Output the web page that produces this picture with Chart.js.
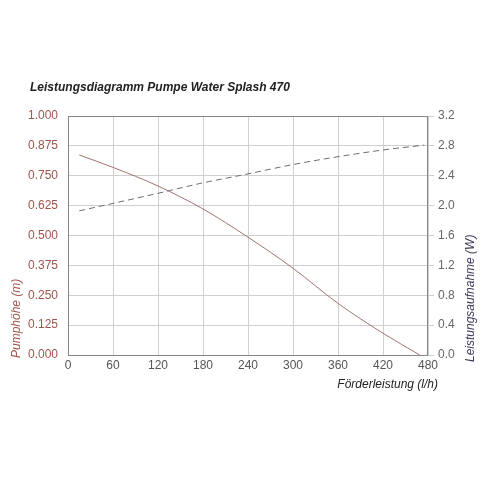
<!DOCTYPE html>
<html>
<head>
<meta charset="utf-8">
<script src="https://cdn.jsdelivr.net/npm/chart.js@4"></script>
<style>
  html, body { margin: 0; padding: 0; background: #fff; }
  #wrap { width: 481px; height: 481px; }
</style>
</head>
<body>
<div id="wrap"><canvas id="pumpChart" width="481" height="481"></canvas></div>
<script>
// values
const flowHeight = [15, 60, 120, 180, 240, 300, 360, 420, 469];
const headValues = [0.837, 0.785, 0.707, 0.611, 0.493, 0.363, 0.216, 0.091, 0.0];
const flowPower = [15, 60, 120, 180, 240, 300, 360, 420, 475];
const powerValues = [1.93, 2.03, 2.165, 2.305, 2.425, 2.55, 2.655, 2.745, 2.81];

const chartTitle = 'Leistungsdiagramm Pumpe Water Splash 470';
const xTitle = 'Förderleistung (l/h)';
const leftTitle = 'Pumphöhe (m)';
const rightTitle = 'Leistungsaufnahme (W)';

const FONT = '"Liberation Sans", Arial, sans-serif';
const brown = '#a0544c';

function toPoints(xs, ys) {
  return xs.map((x, i) => ({ x: x, y: ys[i] }));
}

// titles and frame drawn by hand
const decorations = {
  id: 'decorations',
  afterDraw(chart) {
    const ctx = chart.ctx;
    const a = chart.chartArea;
    ctx.save();
    ctx.strokeStyle = '#858585';
    ctx.lineWidth = 1;
    ctx.strokeRect(a.left + 0.5, a.top + 0.5, a.right - a.left - 1, a.bottom - a.top);

    ctx.fillStyle = '#222';
    ctx.font = 'italic bold 12px ' + FONT;
    ctx.textBaseline = 'middle';
    ctx.textAlign = 'left';
    ctx.fillText(chartTitle, 30, 88);

    ctx.font = 'italic 12px ' + FONT;
    ctx.textAlign = 'right';
    ctx.fillText(xTitle, 438, 385);

    ctx.save();
    ctx.translate(17, 358);
    ctx.rotate(-Math.PI / 2);
    ctx.textAlign = 'left';
    ctx.fillStyle = brown;
    ctx.fillText(leftTitle, 0, 0);
    ctx.restore();

    ctx.save();
    ctx.translate(471, 362);
    ctx.rotate(-Math.PI / 2);
    ctx.textAlign = 'left';
    ctx.fillStyle = '#3a3a58';
    ctx.fillText(rightTitle, 0, 0);
    ctx.restore();
    ctx.restore();
  }
};

new Chart(document.getElementById('pumpChart').getContext('2d'), {
  type: 'line',
  data: {
    datasets: [
      {
        label: leftTitle,
        data: toPoints(flowHeight, headValues),
        yAxisID: 'yHead',
        borderColor: '#a07470',
        borderWidth: 1,
        pointRadius: 0,
        cubicInterpolationMode: 'monotone',
        fill: false
      },
      {
        label: rightTitle,
        data: toPoints(flowPower, powerValues),
        yAxisID: 'yPower',
        borderColor: '#6e6e6e',
        borderWidth: 1,
        borderDash: [6, 4],
        pointRadius: 0,
        cubicInterpolationMode: 'monotone',
        fill: false
      }
    ]
  },
  options: {
    responsive: false,
    animation: false,
    layout: { padding: { top: 116, left: 0, right: 0, bottom: 0 } },
    plugins: {
      legend: { display: false },
      tooltip: { enabled: false },
      title: { display: false }
    },
    scales: {
      x: {
        type: 'linear',
        min: 0,
        max: 480,
        afterFit(scale) { scale.height = 126; },
        ticks: {
          stepSize: 60,
          color: '#555',
          font: { family: FONT, size: 12 },
          padding: 3,
          maxRotation: 0
        },
        grid: { color: '#cfcfcf', drawTicks: false },
        border: { display: false }
      },
      yHead: {
        position: 'left',
        min: 0,
        max: 1,
        afterFit(scale) { scale.width = 68; },
        ticks: {
          stepSize: 0.125,
          color: brown,
          font: { family: FONT, size: 12 },
          padding: 10,
          callback: v => v.toFixed(3)
        },
        grid: { color: '#cfcfcf', drawTicks: false },
        border: { display: false }
      },
      yPower: {
        position: 'right',
        min: 0,
        max: 3.2,
        afterFit(scale) { scale.width = 53; },
        ticks: {
          stepSize: 0.4,
          color: '#666',
          font: { family: FONT, size: 12 },
          padding: 4,
          callback: v => v.toFixed(1)
        },
        grid: { drawOnChartArea: false, color: '#cfcfcf', tickLength: 6 },
        border: { display: false }
      }
    }
  },
  plugins: [decorations]
});
</script>
</body>
</html>
